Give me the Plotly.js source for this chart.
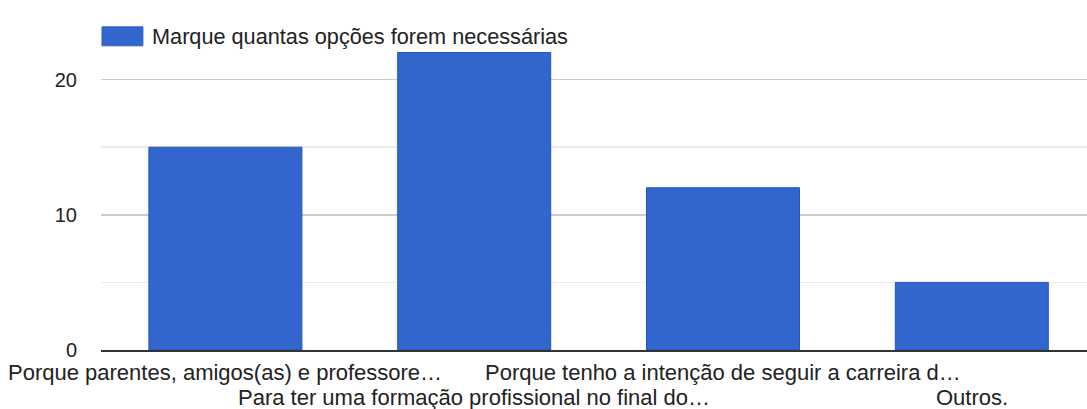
<!DOCTYPE html>
<html>
<head>
<meta charset="utf-8">
<script src="https://cdn.plot.ly/plotly-3.0.1.min.js"></script>
<style>
  html, body { margin: 0; padding: 0; background: #fff; }
  #chart { width: 1087px; height: 409px; }
</style>
</head>
<body>
<div id="chart"></div>
<script>
// Responses per reason
const seriesName = "Marque quantas opções forem necessárias";
const categories = [
  "Porque parentes, amigos(as) e professore…",
  "Para ter uma formação profissional no final do…",
  "Porque tenho a intenção de seguir a carreira d…",
  "Outros."
];
const counts = [15, 22, 12, 5];
const yTickValues = [0, 10, 20];
const yTickLabels = ["0", "10", "20"];

const FONT = "Liberation Sans, Arial, Helvetica, sans-serif";
const TEXT = "#222222";
const barBlue = "#3366cc";

const trace = {
  type: "bar",
  name: seriesName,
  x: categories,
  y: counts,
  width: 0.615,
  marker: { color: barBlue, line: { color: "#1f55c6", width: 1 } },
  hoverinfo: "x+y",
  showlegend: false
};

// Category labels alternate between two rows under the axis
const categoryLabels = categories.map((c, i) => ({
  xref: "x", yref: "paper",
  x: c, y: 0,
  xanchor: "center", yanchor: "middle",
  yshift: i % 2 === 0 ? -22.5 : -47.5,
  text: c, showarrow: false,
  font: { family: FONT, size: 22, color: TEXT }
}));

const layout = {
  width: 1087,
  height: 409,
  margin: { l: 101, r: 0, t: 12, b: 58.5, pad: 0 },
  paper_bgcolor: "#ffffff",
  plot_bgcolor: "#ffffff",
  font: { family: FONT, size: 20, color: TEXT },
  xaxis: {
    type: "category",
    range: [-0.5, 3.463],
    showticklabels: false,
    ticks: "",
    showgrid: false,
    showline: true,
    linecolor: "#333333",
    linewidth: 1.5,
    zeroline: false,
    automargin: false
  },
  yaxis: {
    range: [0, 25],
    tickmode: "array",
    tickvals: yTickValues,
    ticktext: yTickLabels,
    ticks: "",
    ticklabelstandoff: 23,
    showgrid: true,
    gridcolor: "#cccccc",
    gridwidth: 1.5,
    minor: { dtick: 5, tick0: 0, showgrid: true, gridcolor: "#ebebeb", gridwidth: 1.5 },
    zeroline: false,
    showline: false,
    tickfont: { family: FONT, size: 20, color: TEXT },
    automargin: false
  },
  shapes: [
    {
      type: "rect", xref: "paper", yref: "paper",
      x0: 0.001, x1: 0.0425, y0: 0.900, y1: 0.956,
      fillcolor: barBlue, line: { color: "#2a5cd0", width: 1 }
    }
  ],
  annotations: [
    {
      xref: "paper", yref: "paper",
      x: 0.050, y: 0.927, xanchor: "left", yanchor: "middle",
      text: seriesName, showarrow: false,
      font: { family: FONT, size: 21.7, color: TEXT }
    }
  ].concat(categoryLabels)
};

Plotly.newPlot("chart", [trace], layout, { displayModeBar: false, staticPlot: true });
</script>
</body>
</html>
